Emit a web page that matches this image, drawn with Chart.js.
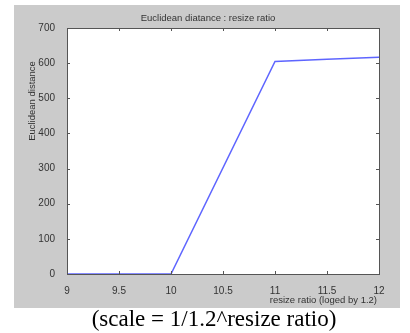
<!DOCTYPE html>
<html>
<head>
<meta charset="utf-8">
<script src="https://cdn.jsdelivr.net/npm/chart.js@4/dist/chart.umd.min.js"></script>
<style>
  html, body { margin: 0; padding: 0; background: #fff; width: 410px; height: 333px; overflow: hidden; }
  #panel { position: absolute; left: 14px; top: 5px; width: 386px; height: 303px; background: #cbcbcb; }
  #wrap { position: absolute; left: 0; top: 0; width: 410px; height: 310px; }
  #caption { position: absolute; left: 0; top: 306px; width: 428px; text-align: center;
             font-family: "Liberation Serif", "Times New Roman", serif; font-size: 23px; color: #000; line-height: 26px; }
</style>
</head>
<body>
<div id="panel"></div>
<div id="wrap"><canvas id="chart" width="410" height="310"></canvas></div>
<div id="caption">(scale = 1/1.2^resize ratio)</div>
<script>
// Data
const ratio = [9, 10, 11, 11.5, 12];
const distance = [0, 0, 605, 611, 617];
const xTicks = [9, 9.5, 10, 10.5, 11, 11.5, 12];
const yTicks = [0, 100, 200, 300, 400, 500, 600, 700];

const font = { family: 'Liberation Sans, Arial, sans-serif', size: 10 };

// white axes background
const whiteArea = {
    id: 'whiteArea',
    beforeDraw(chart) {
        const a = chart.chartArea;
        chart.ctx.save();
        chart.ctx.fillStyle = '#fff';
        chart.ctx.fillRect(a.left, a.top, a.right - a.left, a.bottom - a.top);
        chart.ctx.restore();
    }
};

// MATLAB style box with inward ticks + texts
const matlabBox = {
    id: 'matlabBox',
    afterDatasetsDraw(chart) {
        const c = chart.ctx;
        const a = chart.chartArea;
        const xs = chart.scales.x, ys = chart.scales.y;
        c.save();
        c.strokeStyle = '#555';
        c.lineWidth = 1;
        c.strokeRect(Math.round(a.left) + 0.5, Math.round(a.top) + 0.5,
                     Math.round(a.right - a.left), Math.round(a.bottom - a.top));
        c.beginPath();
        xTicks.forEach(v => {
            const px = Math.round(xs.getPixelForValue(v)) + 0.5;
            c.moveTo(px, a.bottom); c.lineTo(px, a.bottom - 3);
            c.moveTo(px, a.top); c.lineTo(px, a.top + 3);
        });
        yTicks.forEach(v => {
            const py = Math.round(ys.getPixelForValue(v)) + 0.5;
            c.moveTo(a.left, py); c.lineTo(a.left + 3, py);
            c.moveTo(a.right, py); c.lineTo(a.right - 3, py);
        });
        c.stroke();

        c.fillStyle = '#333';
        c.font = '9.5px "Liberation Sans", Arial, sans-serif';
        c.textAlign = 'center';
        c.textBaseline = 'middle';
        c.fillText('Euclidean diatance : resize ratio', 208, 18);
        c.textAlign = 'right';
        c.fillText('resize ratio (loged by 1.2)', 377, 300);
        c.translate(32, 101);
        c.rotate(-Math.PI / 2);
        c.textAlign = 'center';
        c.fillText('Euclidean distance', 0, 0);
        c.restore();
    }
};

new Chart(document.getElementById('chart'), {
    type: 'scatter',
    data: {
        datasets: [{
            data: ratio.map((r, i) => ({ x: r, y: distance[i] })),
            showLine: true,
            borderColor: 'rgba(40,50,255,0.75)',
            borderWidth: 1.5,
            pointRadius: 0,
            tension: 0
        }]
    },
    options: {
        responsive: false,
        animation: false,
        layout: { padding: { left: 0, right: 31, top: 28, bottom: 0 } },
        plugins: { legend: { display: false }, tooltip: { enabled: false } },
        scales: {
            x: {
                type: 'linear', min: 9, max: 12,
                afterBuildTicks: s => { s.ticks = xTicks.map(v => ({ value: v })); },
                afterFit: s => { s.height = 36; },
                grid: { display: false },
                border: { display: false },
                ticks: { color: '#333', font, padding: 3, maxRotation: 0, callback: v => String(v) }
            },
            y: {
                type: 'linear', min: 0, max: 700,
                afterBuildTicks: s => { s.ticks = yTicks.map(v => ({ value: v })); },
                afterFit: s => { s.width = 67; },
                grid: { display: false },
                border: { display: false },
                ticks: { color: '#333', font, padding: 4, callback: v => String(v) }
            }
        }
    },
    plugins: [whiteArea, matlabBox]
});
</script>
</body>
</html>
